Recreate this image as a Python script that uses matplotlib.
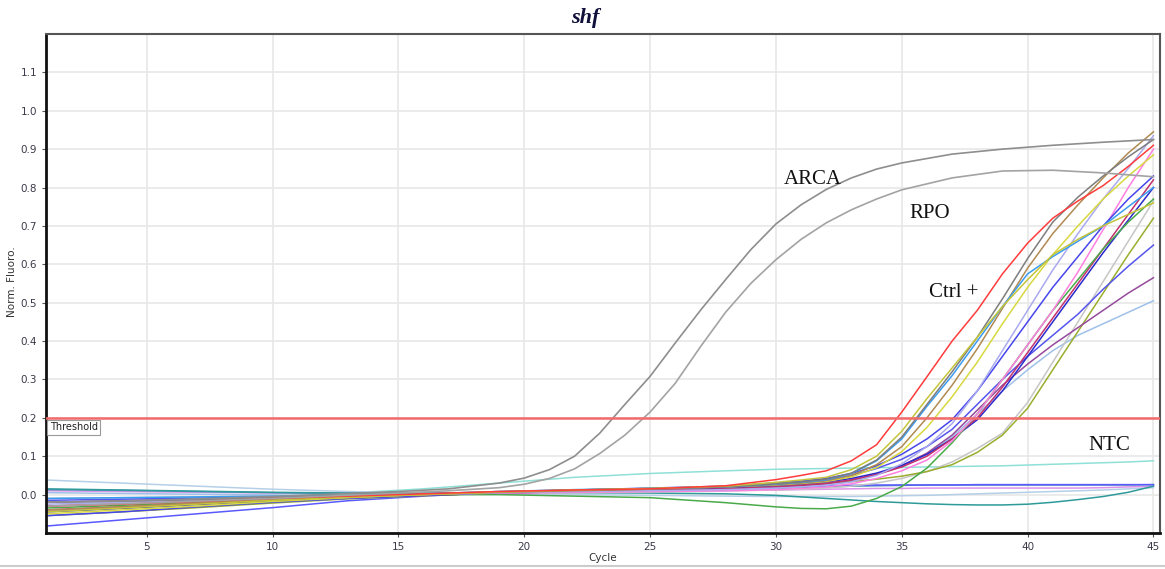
import matplotlib

matplotlib.use("Agg")

import matplotlib.pyplot as plt
from matplotlib.lines import Line2D

CYCLES = [1, 4, 7, 10, 13, 16, 19, 22, 25, 28, 30, 31, 32, 33, 34, 35,
          36, 37, 38, 39, 40, 41, 42, 43, 44, 45]
GRAY_CYCLES = [1, 5, 10, 15, 17, 19, 20, 21, 22, 23, 24, 25, 26, 27, 28,
               29, 30, 31, 32, 33, 34, 35, 37, 39, 41, 43, 45]

# early amplifiers (ARCA, RPO)
arca = [-0.02, -0.015, -0.005, 0.008, 0.015, 0.03, 0.043, 0.065, 0.1, 0.16,
        0.235, 0.308, 0.395, 0.48, 0.56, 0.638, 0.705, 0.755, 0.795, 0.825,
        0.848, 0.864, 0.887, 0.90, 0.91, 0.918, 0.925]
rpo = [-0.03, -0.022, -0.01, 0.004, 0.01, 0.018, 0.027, 0.042, 0.067, 0.107,
       0.155, 0.215, 0.29, 0.385, 0.475, 0.55, 0.612, 0.665, 0.708, 0.742,
       0.77, 0.794, 0.825, 0.843, 0.845, 0.838, 0.828]

# late amplifiers (samples / Ctrl +)
red = [-0.03, -0.025, -0.018, -0.01, -0.004, 0.002, 0.008, 0.012, 0.015, 0.023,
       0.039, 0.05, 0.062, 0.088, 0.13, 0.215, 0.307, 0.40, 0.48, 0.575,
       0.655, 0.72, 0.765, 0.805, 0.855, 0.91]
khaki = [-0.045, -0.035, -0.025, -0.015, -0.007, 0.0, 0.007, 0.012, 0.016, 0.022,
         0.032, 0.038, 0.045, 0.065, 0.10, 0.165, 0.25, 0.33, 0.41, 0.49,
         0.56, 0.625, 0.665, 0.70, 0.73, 0.76]
dark_gray = [-0.02, -0.017, -0.013, -0.008, -0.003, 0.002, 0.008, 0.012, 0.015, 0.02,
             0.028, 0.033, 0.04, 0.056, 0.09, 0.15, 0.235, 0.32, 0.41, 0.51,
             0.615, 0.71, 0.775, 0.83, 0.88, 0.925]
sky_blue = [-0.01, -0.008, -0.006, -0.004, -0.002, 0.002, 0.008, 0.013, 0.016, 0.02,
            0.027, 0.032, 0.038, 0.055, 0.088, 0.145, 0.23, 0.31, 0.40, 0.49,
            0.575, 0.62, 0.66, 0.70, 0.75, 0.80]
tan = [-0.04, -0.032, -0.022, -0.013, -0.006, 0.0, 0.006, 0.01, 0.014, 0.02,
       0.026, 0.03, 0.036, 0.05, 0.078, 0.125, 0.2, 0.285, 0.38, 0.485,
       0.59, 0.68, 0.755, 0.825, 0.89, 0.945]
yellow = [-0.05, -0.04, -0.03, -0.018, -0.008, 0.0, 0.007, 0.012, 0.016, 0.02,
          0.025, 0.029, 0.034, 0.046, 0.07, 0.112, 0.175, 0.255, 0.345, 0.445,
          0.54, 0.625, 0.70, 0.77, 0.83, 0.885]
lavender = [-0.025, -0.02, -0.015, -0.01, -0.005, 0.0, 0.005, 0.008, 0.01, 0.013,
            0.017, 0.02, 0.024, 0.033, 0.05, 0.08, 0.125, 0.185, 0.27, 0.375,
            0.48, 0.585, 0.68, 0.77, 0.85, 0.935]
blue = [-0.055, -0.045, -0.032, -0.02, -0.01, -0.002, 0.006, 0.012, 0.017, 0.022,
        0.03, 0.035, 0.042, 0.055, 0.075, 0.105, 0.145, 0.195, 0.27, 0.36,
        0.45, 0.54, 0.62, 0.70, 0.77, 0.83]
pink = [-0.03, -0.024, -0.017, -0.01, -0.004, 0.0, 0.004, 0.006, 0.008, 0.01,
        0.013, 0.016, 0.02, 0.028, 0.042, 0.062, 0.09, 0.14, 0.21, 0.30,
        0.39, 0.48, 0.58, 0.69, 0.80, 0.90]
green = [-0.035, -0.028, -0.02, -0.012, -0.005, 0.0, 0.0, -0.004, -0.008, -0.021,
         -0.032, -0.036, -0.037, -0.03, -0.01, 0.021, 0.069, 0.135, 0.21, 0.30,
         0.39, 0.48, 0.56, 0.64, 0.71, 0.77]
magenta = [-0.04, -0.032, -0.023, -0.014, -0.007, -0.002, 0.004, 0.008, 0.011, 0.015,
           0.02, 0.024, 0.029, 0.038, 0.052, 0.072, 0.10, 0.145, 0.20, 0.28,
           0.37, 0.46, 0.55, 0.64, 0.73, 0.82]
dark_blue = [-0.045, -0.036, -0.026, -0.016, -0.008, -0.002, 0.004, 0.009, 0.013, 0.018,
             0.024, 0.028, 0.033, 0.042, 0.056, 0.076, 0.105, 0.145, 0.195, 0.27,
             0.36, 0.45, 0.54, 0.63, 0.715, 0.80]
blue_shallow = [-0.015, -0.012, -0.009, -0.006, -0.003, 0.0, 0.004, 0.008, 0.012, 0.018,
                0.026, 0.031, 0.038, 0.05, 0.068, 0.092, 0.125, 0.17, 0.235, 0.30,
                0.36, 0.415, 0.47, 0.535, 0.595, 0.65]
purple = [-0.02, -0.016, -0.012, -0.008, -0.004, 0.0, 0.004, 0.008, 0.011, 0.015,
          0.02, 0.024, 0.029, 0.038, 0.053, 0.075, 0.108, 0.155, 0.22, 0.285,
          0.34, 0.39, 0.435, 0.48, 0.525, 0.565]
pale_blue = [0.005, 0.003, 0.001, -0.001, -0.002, 0.0, 0.003, 0.006, 0.008, 0.012,
             0.017, 0.021, 0.026, 0.036, 0.052, 0.075, 0.105, 0.15, 0.21, 0.27,
             0.325, 0.375, 0.415, 0.445, 0.475, 0.505]
light_gray = [-0.01, -0.008, -0.006, -0.004, -0.002, 0.0, 0.003, 0.005, 0.007, 0.01,
              0.012, 0.014, 0.017, 0.022, 0.03, 0.042, 0.06, 0.085, 0.12, 0.16,
              0.24, 0.345, 0.45, 0.555, 0.66, 0.765]
olive = [-0.055, -0.045, -0.034, -0.022, -0.011, -0.003, 0.004, 0.009, 0.013, 0.018,
         0.024, 0.027, 0.03, 0.034, 0.04, 0.048, 0.06, 0.078, 0.11, 0.155,
         0.225, 0.325, 0.425, 0.525, 0.625, 0.72]

# no-template controls and flat wells
cyan = [-0.03, -0.02, -0.012, -0.005, 0.004, 0.015, 0.03, 0.045, 0.055, 0.062,
        0.066, 0.067, 0.068, 0.069, 0.07, 0.071, 0.072, 0.073, 0.074, 0.075,
        0.077, 0.079, 0.081, 0.083, 0.085, 0.088]
steel = [0.013, 0.011, 0.008, 0.005, 0.003, 0.003, 0.005, 0.008, 0.01, 0.013,
         0.016, 0.018, 0.02, 0.022, 0.023, 0.024, 0.025, 0.025, 0.025, 0.025,
         0.025, 0.025, 0.025, 0.025, 0.025, 0.026]
teal = [0.015, 0.012, 0.009, 0.006, 0.004, 0.003, 0.004, 0.005, 0.004, 0.002,
        -0.002, -0.006, -0.01, -0.014, -0.018, -0.021, -0.024, -0.026, -0.027, -0.027,
        -0.025, -0.02, -0.013, -0.005, 0.006, 0.022]
violet = [0.01, 0.008, 0.006, 0.004, 0.003, 0.003, 0.004, 0.006, 0.008, 0.01,
          0.012, 0.013, 0.014, 0.015, 0.016, 0.016, 0.017, 0.017, 0.017, 0.017,
          0.017, 0.017, 0.017, 0.018, 0.02, 0.022]
top_blue = [0.038, 0.03, 0.022, 0.014, 0.008, 0.004, 0.002, 0.0, -0.002, -0.004,
            -0.005, -0.005, -0.005, -0.005, -0.004, -0.003, -0.002, 0.0, 0.002, 0.004,
            0.006, 0.008, 0.01, 0.012, 0.015, 0.018]
low_blue = [-0.082, -0.066, -0.05, -0.034, -0.016, -0.004, 0.006, 0.012, 0.016, 0.019,
            0.021, 0.022, 0.023, 0.024, 0.025, 0.025, 0.025, 0.025, 0.026, 0.026,
            0.026, 0.026, 0.026, 0.026, 0.026, 0.026]

THRESHOLD = 0.2
X_TICKS = [5, 10, 15, 20, 25, 30, 35, 40, 45]
Y_TICKS = [0.0, 0.1, 0.2, 0.3, 0.4, 0.5, 0.6, 0.7, 0.8, 0.9, 1.0, 1.1]

sample_series = [
    (cyan, "#8fe0d6"), (top_blue, "#b5cfe8"), (violet, "#dc93ea"),
    (steel, "#4a92b4"), (teal, "#2e9a9a"), (low_blue, "#5a5aff"),
    (pale_blue, "#9fc0e8"), (light_gray, "#c6c6c6"), (olive, "#9aad2e"),
    (purple, "#964a9c"), (blue_shallow, "#5555ee"), (dark_blue, "#2a2acc"),
    (magenta, "#c2306e"), (green, "#4aaa4a"), (pink, "#ff7fe0"),
    (blue, "#4646ec"), (lavender, "#aaaaee"), (yellow, "#d8d840"),
    (tan, "#b08a52"), (sky_blue, "#3a9cf0"), (dark_gray, "#7d7d7d"),
    (khaki, "#c4c43a"), (red, "#ff3b3b"),
]

fig = plt.figure(figsize=(11.65, 5.69), dpi=100)
ax = fig.add_axes([0.0395, 0.0633, 0.956, 0.877])

for values, color in sample_series:
    ax.plot(CYCLES, values, color=color, linewidth=1.1)
ax.plot(GRAY_CYCLES, rpo, color="#a3a3a3", linewidth=1.2)
ax.plot(GRAY_CYCLES, arca, color="#8e8e8e", linewidth=1.2)

ax.axhline(THRESHOLD, color="#f26a6a", linewidth=1.8, zorder=5)
ax.text(1.15, THRESHOLD - 0.012, "Threshold", fontsize=7, va="top", ha="left",
        color="#222222",
        bbox={"boxstyle": "square,pad=0.25", "fc": "white", "ec": "#999999", "lw": 0.8})

serif = "Liberation Serif"
ax.text(30.3, 0.81, "ARCA", fontsize=15, family=serif, color="#111111")
ax.text(35.3, 0.72, "RPO", fontsize=15, family=serif, color="#111111")
ax.text(36.1, 0.515, "Ctrl +", fontsize=15, family=serif, color="#111111")
ax.text(42.4, 0.115, "NTC", fontsize=15, family=serif, color="#111111")

ax.set_xlim(1.0, 45.25)
ax.set_ylim(-0.1, 1.2)
ax.set_xticks(X_TICKS)
ax.set_yticks(Y_TICKS)
ax.set_yticklabels([f"{v:.1f}" for v in Y_TICKS])
ax.grid(True, color="#e8e8e8", linewidth=1.2)
ax.set_axisbelow(True)
ax.tick_params(labelsize=7.5, labelcolor="#3a3a4a", length=3, color="#555555")

for side in ["left", "bottom"]:
    ax.spines[side].set_linewidth(2.0)
    ax.spines[side].set_color("#111111")
for side in ["top", "right"]:
    ax.spines[side].set_linewidth(1.5)
    ax.spines[side].set_color("#555555")

ax.set_xlabel("Cycle", fontsize=7.5, color="#333333", labelpad=1)
ax.set_ylabel("Norm. Fluoro.", fontsize=7.5, color="#333333")
ax.yaxis.set_label_coords(-0.026, 0.503)
fig.text(0.502, 0.968, "shf", fontsize=16, family=serif, style="italic",
         weight="bold", color="#10103a", ha="center", va="center")

fig.add_artist(Line2D([0.0, 1.0], [0.006, 0.006], color="#cccccc", linewidth=1.5))

fig.savefig("out.png", dpi=100, facecolor="white")
